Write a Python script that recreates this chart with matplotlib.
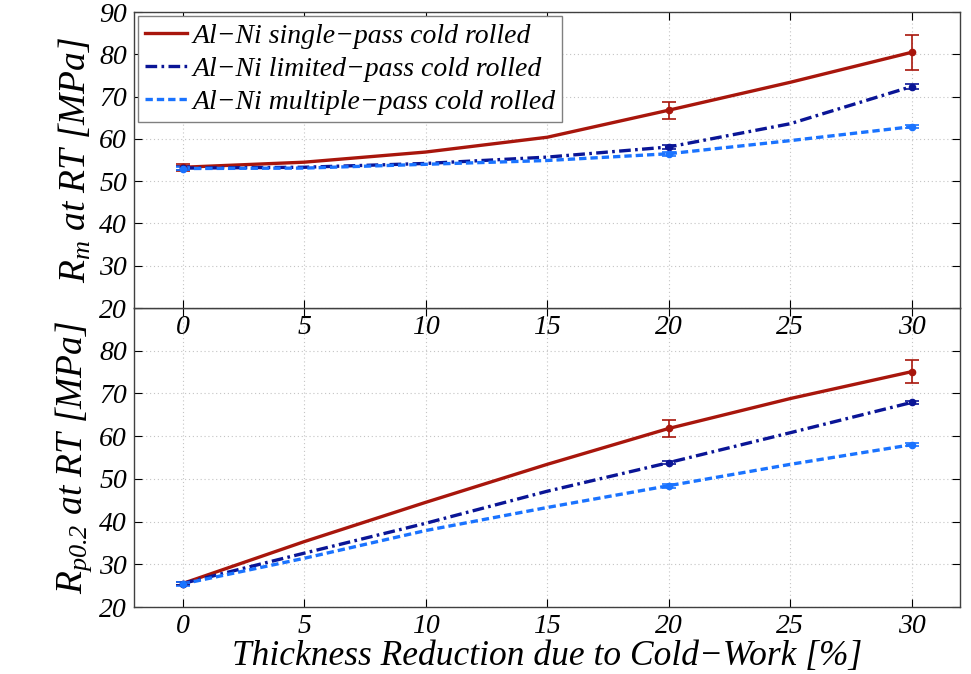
import matplotlib

matplotlib.use("Agg")
import matplotlib.pyplot as plt

# --- dados ---
reducao = [0, 20, 30]  # pontos medidos [%]
reducao_curva = [0, 5, 10, 15, 20, 25, 30]  # pontos lidos ao longo das curvas

rm_single = [53.3, 66.8, 80.5]
rm_single_err = [0.8, 2.0, 4.2]
rm_limited = [53.1, 58.1, 72.4]
rm_limited_err = [0.4, 0.5, 0.6]
rm_multiple = [53.0, 56.5, 62.9]
rm_multiple_err = [0.4, 0.5, 0.4]

rm_single_curva = [53.3, 54.5, 56.9, 60.4, 66.8, 73.4, 80.5]
rm_limited_curva = [53.1, 53.3, 54.2, 55.7, 58.1, 63.6, 72.4]
rm_multiple_curva = [53.0, 53.1, 54.0, 54.9, 56.5, 59.6, 62.9]

rp_single = [25.5, 61.8, 75.1]
rp_single_err = [0.4, 2.0, 2.7]
rp_limited = [25.5, 53.8, 67.9]
rp_limited_err = [0.4, 0.4, 0.4]
rp_multiple = [25.4, 48.4, 58.0]
rp_multiple_err = [0.4, 0.5, 0.4]

rp_single_curva = [25.5, 35.3, 44.5, 53.4, 61.8, 68.8, 75.1]
rp_limited_curva = [25.5, 32.6, 39.6, 47.1, 53.8, 60.8, 67.9]
rp_multiple_curva = [25.4, 31.4, 37.9, 43.3, 48.4, 53.4, 58.0]

rotulos = [
    "Al\u2212Ni single\u2212pass cold rolled",
    "Al\u2212Ni limited\u2212pass cold rolled",
    "Al\u2212Ni multiple\u2212pass cold rolled",
]

COR_SINGLE = "#a8160c"
COR_LIMITED = "#0a1596"
COR_MULTIPLE = "#1a73ff"
ESTILO_LIMITED = (0, (3.5, 1.3, 0.8, 1.3))
ESTILO_MULTIPLE = (0, (2.2, 1.2))

plt.rcParams["font.family"] = ["Liberation Serif", "DejaVu Serif"]
plt.rcParams["font.style"] = "italic"
plt.rcParams["mathtext.fontset"] = "custom"
plt.rcParams["mathtext.it"] = "Liberation Serif:italic"
plt.rcParams["mathtext.rm"] = "Liberation Serif:italic"


def _estilo_eixo(ax, yticks):
    ax.set_xlim(-2, 32)
    ax.set_ylim(20, 90)
    ax.set_xticks([0, 5, 10, 15, 20, 25, 30])
    ax.set_yticks(yticks)
    ax.tick_params(direction="in", top=True, right=True, labelsize=20, length=6, pad=5)
    ax.grid(True, ls=(0, (1, 2.5)), color="#c4c4c4", lw=0.8)
    ax.set_axisbelow(True)
    for sp in ax.spines.values():
        sp.set_color("#404040")
        sp.set_linewidth(1.0)


def _plotar(ax, ys, errs, curvas):
    estilos = [
        (COR_SINGLE, "-", 2.4),
        (COR_LIMITED, ESTILO_LIMITED, 2.4),
        (COR_MULTIPLE, ESTILO_MULTIPLE, 2.4),
    ]
    for (cor, ls, lw), y, e, c, nome in zip(estilos, ys, errs, curvas, rotulos):
        ax.plot(reducao_curva, c, color=cor, ls=ls, lw=lw, label=nome, zorder=3)
        ax.errorbar(
            reducao, y, yerr=e, fmt="o", ms=4.5, color=cor, ecolor=cor,
            elinewidth=1.2, capsize=5, capthick=1.2, zorder=4,
        )


fig = plt.figure(figsize=(9.71, 6.74), dpi=100)
ax_bot = fig.add_axes([0.138, 0.0994, 0.851, 0.4436])
ax_top = fig.add_axes([0.138, 0.543, 0.851, 0.439])

_plotar(
    ax_top,
    [rm_single, rm_limited, rm_multiple],
    [rm_single_err, rm_limited_err, rm_multiple_err],
    [rm_single_curva, rm_limited_curva, rm_multiple_curva],
)
_plotar(
    ax_bot,
    [rp_single, rp_limited, rp_multiple],
    [rp_single_err, rp_limited_err, rp_multiple_err],
    [rp_single_curva, rp_limited_curva, rp_multiple_curva],
)

_estilo_eixo(ax_top, [20, 30, 40, 50, 60, 70, 80, 90])
_estilo_eixo(ax_bot, [20, 30, 40, 50, 60, 70, 80])

ax_top.set_ylabel(r"$R_m$ at RT [MPa]", fontsize=27, labelpad=4)
ax_bot.set_ylabel(r"$R_{p0.2}$ at RT [MPa]", fontsize=27, labelpad=4)
ax_bot.set_xlabel("Thickness Reduction due to Cold\u2212Work [%]", fontsize=25.5, labelpad=1)

leg = ax_top.legend(
    loc="upper left", fontsize=20, handlelength=1.5, handletextpad=0.2,
    borderaxespad=0.15, borderpad=0.25, labelspacing=0.28, fancybox=False,
    framealpha=1, edgecolor="#808080",
)
leg.get_frame().set_linewidth(1.0)

fig.savefig("out.png", dpi=100)
